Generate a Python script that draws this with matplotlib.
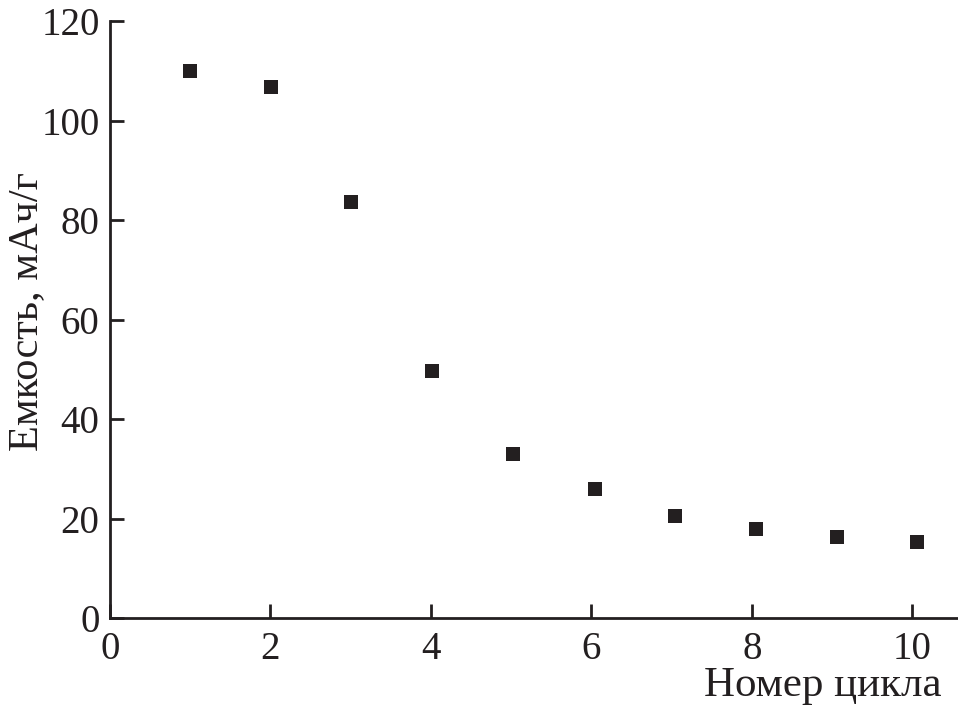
import matplotlib.pyplot as plt

plt.rcParams['font.family'] = ['Liberation Serif', 'DejaVu Serif']

cycles = [1.0, 2.01, 3.0, 4.02, 5.02, 6.05, 7.04, 8.05, 9.06, 10.06]
capacity = [110.0, 106.7, 83.6, 49.6, 33.0, 25.9, 20.6, 17.8, 16.3, 15.3]

x_ticks = [0, 2, 4, 6, 8, 10]
y_ticks = [0, 20, 40, 60, 80, 100, 120]

fig = plt.figure(figsize=(9.58, 7.13), dpi=100)
ax = fig.add_axes([0.1148, 0.1332, 0.8852, 0.8373])

ax.plot(cycles, capacity, 's', color='#231f20', markersize=9.5, markeredgewidth=0)

ax.set_xlim(0, 10.57)
ax.set_ylim(0, 120)
ax.set_xticks(x_ticks)
ax.set_yticks(y_ticks)

for side in ['top', 'right']:
    ax.spines[side].set_visible(False)
for side in ['left', 'bottom']:
    ax.spines[side].set_linewidth(2)
    ax.spines[side].set_color('#231f20')

ax.tick_params(direction='in', length=10, width=2, color='#231f20',
               labelsize=28, labelcolor='#231f20')
ax.tick_params(axis='y', pad=7.5)
ax.tick_params(axis='x', pad=9)

ax.set_ylabel('Емкость, мАч/г', fontsize=30.5, color='#231f20')
ax.yaxis.set_label_coords(-0.075, 0.514)
ax.set_xlabel('Номер цикла', fontsize=31, color='#231f20', ha='right')
ax.xaxis.set_label_coords(0.981, -0.082)

fig.savefig('out.png', dpi=100)
